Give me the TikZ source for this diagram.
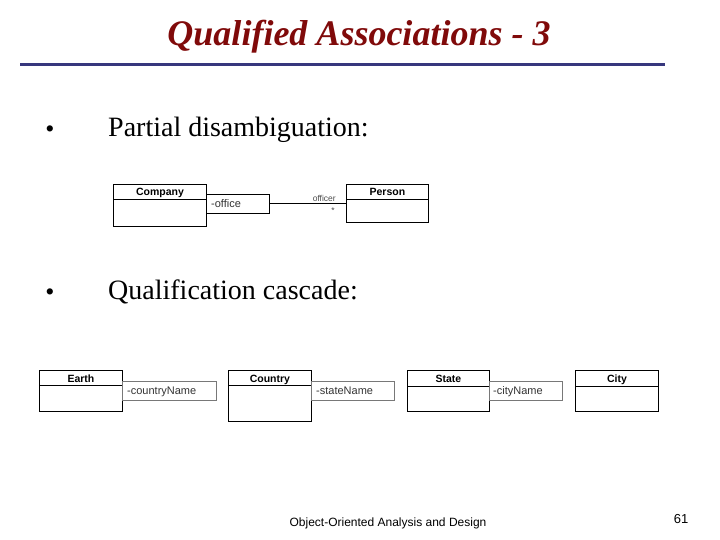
\documentclass[tikz,border=0pt]{standalone}
\usepackage{fontspec}
\setmainfont{Liberation Serif}
\setsansfont{Liberation Sans}
\definecolor{titlered}{RGB}{128,10,10}
\definecolor{rulebl}{RGB}{55,55,125}
\definecolor{qgray}{RGB}{120,120,120}
\begin{document}
\begin{tikzpicture}[x=1pt,y=-1pt,
  classbox/.style={draw=black,line width=0.9pt,rectangle,inner sep=0pt,anchor=north west},
  qualbox/.style={draw=qgray,line width=0.9pt,rectangle,inner sep=0pt,anchor=north west},
  cname/.style={font=\sffamily\bfseries\fontsize{10.5}{11}\selectfont,anchor=base,inner sep=0pt},
  qname/.style={font=\sffamily\fontsize{11}{12}\selectfont,anchor=base west,inner sep=0pt,text=black!80},
  bodytext/.style={font=\fontsize{28}{30}\selectfont,anchor=base west,inner sep=0pt},
  bulletmark/.style={font=\fontsize{26}{30}\selectfont,anchor=base,inner sep=0pt},
  assoc/.style={draw=black,line width=0.9pt},
  smalllabel/.style={font=\sffamily\fontsize{8.5}{9}\selectfont,inner sep=0pt,text=black!70}
]
\useasboundingbox (0,0) rectangle (720,540);
% title
\node (title) [font=\fontsize{36}{38}\selectfont\bfseries\itshape, text=titlered, anchor=base, inner sep=0pt] at (359,46) {Qualified Associations - 3};
\coordinate (ruleL) at (20,65);
\coordinate (ruleR) at (665,65);
\draw[rulebl, line width=3pt] (ruleL) -- (ruleR);
% bullets
\node (b1) [bulletmark] at (50,138) {•};
\node (t1) [bodytext] at (108,137) {Partial disambiguation:};
\node (b2) [bulletmark] at (50,300) {•};
\node (t2) [bodytext] at (108,299) {Qualification cascade:};
% diagram 1
\node (company) [classbox, minimum width=93, minimum height=42] at (113,184) {};
\draw[line width=0.9pt] ([yshift=-15]company.north west) -- ([yshift=-15]company.north east);
\node (companyname) [cname] at ([yshift=-12]company.north) {Company};
\node (office) [qualbox, draw=black, minimum width=63, minimum height=19] at (206,194) {};
\node (officetext) [qname] at ([xshift=5,yshift=-4]office.west) {-office};
\node (person) [classbox, minimum width=82, minimum height=38] at (346,184) {};
\draw[line width=0.9pt] ([yshift=-15]person.north west) -- ([yshift=-15]person.north east);
\node (personname) [cname] at ([yshift=-12]person.north) {Person};
\draw[assoc] (office.east) -- (office.east -| person.west);
\node (rolelabel) [smalllabel, anchor=east] at (336,198) {officer};
\node (mult) [smalllabel, anchor=center] at (333,211) {*};
% cascade
\node (earth) [classbox, minimum width=83, minimum height=41] at (39,370) {};
\draw[line width=0.9pt] ([yshift=-15]earth.north west) -- ([yshift=-15]earth.north east);
\node (earthname) [cname] at ([yshift=-12]earth.north) {Earth};
\node (cn) [qualbox, minimum width=94, minimum height=19] at (122,381) {};
\node (cntext) [qname] at ([xshift=5,yshift=-4]cn.west) {-countryName};

\node (country) [classbox, minimum width=83, minimum height=51] at (228,370) {};
\draw[line width=0.9pt] ([yshift=-15]country.north west) -- ([yshift=-15]country.north east);
\node (countryname) [cname] at ([yshift=-12]country.north) {Country};
\node (sn) [qualbox, minimum width=83, minimum height=19] at (311,381) {};
\node (sntext) [qname] at ([xshift=5,yshift=-4]sn.west) {-stateName};

\node (state) [classbox, minimum width=82, minimum height=41] at (407,370) {};
\draw[line width=0.9pt] ([yshift=-16]state.north west) -- ([yshift=-16]state.north east);
\node (statename) [cname] at ([yshift=-12]state.north) {State};
\node (ctn) [qualbox, minimum width=73, minimum height=19] at (489,381) {};
\node (ctntext) [qname] at ([xshift=4,yshift=-4]ctn.west) {-cityName};

\node (city) [classbox, minimum width=83, minimum height=41] at (575,370) {};
\draw[line width=0.9pt] ([yshift=-16]city.north west) -- ([yshift=-16]city.north east);
\node (cityname) [cname] at ([yshift=-12]city.north) {City};
% footer
\node (footer) [font=\sffamily\fontsize{12}{13}\selectfont, anchor=base, inner sep=0pt] at (388,526) {Object-Oriented Analysis and Design};
\node (pagenum) [font=\sffamily\fontsize{13}{14}\selectfont, anchor=base, inner sep=0pt] at (681,523) {61};
\end{tikzpicture}
\end{document}
